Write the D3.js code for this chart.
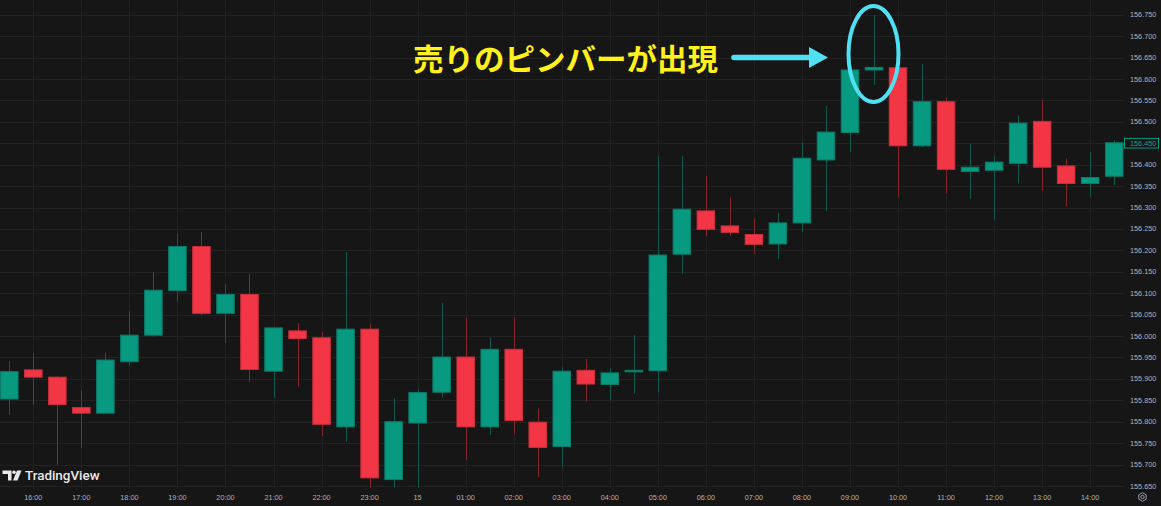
<!DOCTYPE html>
<html><head><meta charset="utf-8">
<script src="https://cdn.jsdelivr.net/npm/d3@7"></script>
<style>html,body{margin:0;padding:0;background:#161616;overflow:hidden}</style>
</head><body><svg id="c" width="1161" height="506"></svg>
<script>
const times = ["2024-05-14T15:30","2024-05-14T16:00","2024-05-14T16:30","2024-05-14T17:00","2024-05-14T17:30","2024-05-14T18:00","2024-05-14T18:30","2024-05-14T19:00","2024-05-14T19:30","2024-05-14T20:00","2024-05-14T20:30","2024-05-14T21:00","2024-05-14T21:30","2024-05-14T22:00","2024-05-14T22:30","2024-05-14T23:00","2024-05-14T23:30","2024-05-15T00:00","2024-05-15T00:30","2024-05-15T01:00","2024-05-15T01:30","2024-05-15T02:00","2024-05-15T02:30","2024-05-15T03:00","2024-05-15T03:30","2024-05-15T04:00","2024-05-15T04:30","2024-05-15T05:00","2024-05-15T05:30","2024-05-15T06:00","2024-05-15T06:30","2024-05-15T07:00","2024-05-15T07:30","2024-05-15T08:00","2024-05-15T08:30","2024-05-15T09:00","2024-05-15T09:30","2024-05-15T10:00","2024-05-15T10:30","2024-05-15T11:00","2024-05-15T11:30","2024-05-15T12:00","2024-05-15T12:30","2024-05-15T13:00","2024-05-15T13:30","2024-05-15T14:00","2024-05-15T14:30"];
const open  = [155.853,155.921,155.904,155.833,155.820,155.940,156.002,156.106,156.209,156.053,156.097,155.918,156.012,155.996,155.788,156.016,155.665,155.797,155.869,155.951,155.788,155.969,155.799,155.742,155.920,155.887,155.918,155.919,156.191,156.292,156.257,156.237,156.215,156.264,156.411,156.475,156.621,156.626,156.444,156.547,156.384,156.387,156.403,156.501,156.397,156.356,156.373];
const high  = [155.942,155.961,155.907,155.874,155.961,156.058,156.149,156.240,156.243,156.121,156.145,156.020,156.030,156.009,156.196,156.029,155.855,155.877,156.077,156.042,155.997,156.044,155.831,155.927,155.946,155.925,156.002,156.421,156.421,156.373,156.323,156.275,156.287,156.452,156.537,156.622,156.750,156.627,156.635,156.556,156.448,156.421,156.515,156.551,156.414,156.429,156.457];
const low   = [155.816,155.839,155.699,155.738,155.818,155.930,155.998,156.080,156.049,155.984,155.893,155.855,155.882,155.767,155.753,155.646,155.646,155.646,155.856,155.711,155.769,155.770,155.671,155.693,155.847,155.850,155.866,155.868,156.145,156.233,156.234,156.192,156.180,156.243,156.292,156.430,156.586,156.325,156.441,156.334,156.320,156.272,156.356,156.339,156.302,156.325,156.352];
const close = [155.917,155.904,155.840,155.820,155.944,156.002,156.107,156.209,156.053,156.097,155.922,156.019,155.994,155.794,156.016,155.669,155.800,155.868,155.951,155.788,155.969,155.803,155.740,155.918,155.888,155.914,155.920,156.189,156.296,156.249,156.242,156.214,156.264,156.415,156.476,156.621,156.627,156.444,156.547,156.389,156.394,156.406,156.497,156.394,156.356,156.370,156.451];
const xTickTimes = ["2024-05-14T16:00","2024-05-14T17:00","2024-05-14T18:00","2024-05-14T19:00","2024-05-14T20:00","2024-05-14T21:00","2024-05-14T22:00","2024-05-14T23:00","2024-05-15T00:00","2024-05-15T01:00","2024-05-15T02:00","2024-05-15T03:00","2024-05-15T04:00","2024-05-15T05:00","2024-05-15T06:00","2024-05-15T07:00","2024-05-15T08:00","2024-05-15T09:00","2024-05-15T10:00","2024-05-15T11:00","2024-05-15T12:00","2024-05-15T13:00","2024-05-15T14:00"];
const xTickLabels = ["16:00","17:00","18:00","19:00","20:00","21:00","22:00","23:00","15","01:00","02:00","03:00","04:00","05:00","06:00","07:00","08:00","09:00","10:00","11:00","12:00","13:00","14:00"];
const yTickLabels = ["155.650","155.700","155.750","155.800","155.850","155.900","155.950","156.000","156.050","156.100","156.150","156.200","156.250","156.300","156.350","156.400","156.450","156.500","156.550","156.600","156.650","156.700","156.750"];
const lastPrice = 156.450;
const annotationText = "売りのピンバーが出現";
const brandText = "TradingView";

const W = 1161, H = 506, plotRight = 1124, plotBottom = 488;
const parse = d3.timeParse("%Y-%m-%dT%H:%M");
const svg = d3.select("#c");
svg.append("rect").attr("width", W).attr("height", H).attr("fill", "#161616");

const x = d3.scaleTime().domain([parse(times[0]), parse(times[times.length-1])]).range([9.3, 1114.2]);
const y = d3.scaleLinear().domain([155.65, 156.75]).range([486, 14.7]);

// grid
const grid = svg.append("g");
grid.selectAll("line.h").data(yTickLabels).join("line")
  .attr("x1", 0).attr("x2", plotRight)
  .attr("y1", d => Math.round(y(+d)) + 0.5).attr("y2", d => Math.round(y(+d)) + 0.5)
  .attr("stroke", "#222222").attr("stroke-width", 1);
grid.selectAll("line.v").data(xTickTimes).join("line")
  .attr("x1", d => Math.round(x(parse(d))) + 0.5).attr("x2", d => Math.round(x(parse(d))) + 0.5)
  .attr("y1", 0).attr("y2", plotBottom)
  .attr("stroke", "#222222").attr("stroke-width", 1);

// candles
const data = times.map((t, i) => ({t: parse(t), o: open[i], h: high[i], l: low[i], c: close[i]}));
const up = d => d.c >= d.o;
const g = svg.append("g");
g.selectAll("line.w").data(data).join("line")
  .attr("x1", d => Math.round(x(d.t)) + 0.5).attr("x2", d => Math.round(x(d.t)) + 0.5)
  .attr("y1", d => y(d.h)).attr("y2", d => y(d.l))
  .attr("stroke", d => up(d) ? "#10594c" : "#85262f").attr("stroke-width", 1);
const bw = 18.5;
g.selectAll("rect.b").data(data).join("rect")
  .attr("x", d => x(d.t) - bw/2 + 0.5)
  .attr("width", bw - 1)
  .attr("y", d => y(Math.max(d.o, d.c)))
  .attr("height", d => Math.max(1.5, Math.abs(y(d.o) - y(d.c))))
  .attr("fill", d => up(d) ? "#089981" : "#F23645")
  .attr("stroke", d => up(d) ? "#0a7d6a" : "#c9303c")
  .attr("stroke-width", 1);

// right price axis
const yAxis = svg.append("g").attr("font-family", "Liberation Sans, Arial, sans-serif").attr("font-size", 7.3).attr("fill", "#b0b3ba");
yAxis.selectAll("text").data(yTickLabels).join("text")
  .attr("x", 1130).attr("y", d => y(+d)).attr("dy", "0.35em").text(d => d);

// last price label
const lp = svg.append("g");
lp.append("rect").attr("x", 1124.5).attr("y", y(lastPrice) - 4.8).attr("width", 34).attr("height", 9.6)
  .attr("fill", "#161616").attr("stroke", "#089981").attr("stroke-width", 1);
lp.append("text").attr("x", 1130).attr("y", y(lastPrice)).attr("dy", "0.35em")
  .attr("font-family", "Liberation Sans, Arial, sans-serif").attr("font-size", 7.3).attr("fill", "#16a58c")
  .text(d3.format(".3f")(lastPrice));

// x axis labels
const xAxis = svg.append("g").attr("font-family", "Liberation Sans, Arial, sans-serif").attr("font-size", 7.3).attr("fill", "#b0b3ba").attr("text-anchor", "middle");
xAxis.selectAll("text").data(xTickTimes).join("text")
  .attr("x", d => x(parse(d))).attr("y", 497).attr("dy", "0.35em")
  .text((d, i) => xTickLabels[i]);

// settings icon
const ic = svg.append("g").attr("transform", "translate(1142.5,497)");
ic.append("path").attr("d", d3.range(6).map(k => { const a = Math.PI/3*k + Math.PI/6; return (k ? "L" : "M") + (4.3*Math.cos(a)).toFixed(2) + "," + (4.3*Math.sin(a)).toFixed(2); }).join("") + "Z")
  .attr("fill", "none").attr("stroke", "#9a9da5").attr("stroke-width", 1);
ic.append("circle").attr("r", 1.7).attr("fill", "none").attr("stroke", "#9a9da5").attr("stroke-width", 1);

// logo
const logo = svg.append("g").attr("fill", "#e8e8e8");
logo.append("path").attr("d", "M2.5,470.5 H11.5 V480.5 H8 V474 H2.5 Z");
logo.append("circle").attr("cx", 14).attr("cy", 472.3).attr("r", 1.8);
logo.append("path").attr("d", "M17,470.5 H21.5 L17.5,480.5 H13 Z");
logo.append("text").attr("x", 25).attr("y", 480.3).attr("font-family", "Roboto, Arial, sans-serif")
  .attr("font-weight", 500).attr("font-size", 13.4).text(brandText);

// annotation
const ann = svg.append("g");
ann.append("text").attr("x", 413).attr("y", 59.5).attr("dy", "0.36em")
  .attr("font-family", "Noto Sans CJK JP, sans-serif").attr("font-weight", 700).attr("font-size", 30)
  .attr("textLength", 305).attr("lengthAdjust", "spacingAndGlyphs")
  .attr("fill", "#fff01e").text(annotationText);
ann.append("path").attr("d", "M734,54.7 H809 V47 L828,57.5 L809,68 V60.3 H734 A2.8,2.8 0 0 1 734,54.7 Z").attr("fill", "#4fe0f4");
ann.append("ellipse").attr("cx", 873.5).attr("cy", 54).attr("rx", 25).attr("ry", 48)
  .attr("fill", "none").attr("stroke", "#4fe0f4").attr("stroke-width", 4);
</script></body></html>
